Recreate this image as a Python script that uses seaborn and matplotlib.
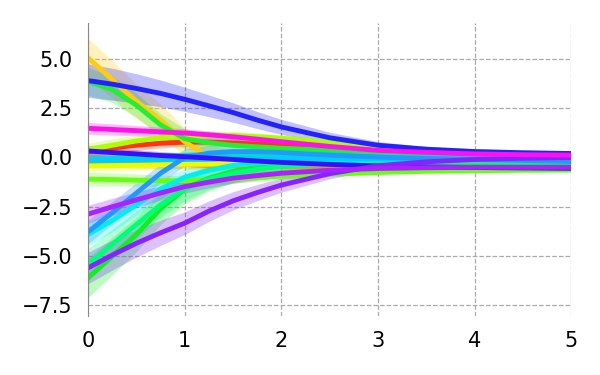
import matplotlib
matplotlib.use('Agg')
import matplotlib.pyplot as plt
import pandas as pd
import seaborn as sns

# x positions where the curves were read
xs = [0, 0.25, 0.5, 0.75, 1, 1.25, 1.5, 1.75, 2, 2.5, 3, 3.5, 4, 4.5, 5]

# mean curves
red = [0.3, 0.48, 0.62, 0.72, 0.78, 0.78, 0.74, 0.68, 0.62, 0.5, 0.38, 0.3, 0.22, 0.18, 0.15]
orange = [-0.2, -0.24, -0.28, -0.32, -0.36, -0.4, -0.42, -0.44, -0.45, -0.45, -0.42, -0.4, -0.36, -0.33, -0.3]
gold = [5.05, 3.95, 2.85, 1.9, 0.8, 0.0, -0.25, -0.3, -0.3, -0.3, -0.3, -0.3, -0.3, -0.3, -0.3]
yellow = [-0.43, -0.41, -0.39, -0.37, -0.35, -0.34, -0.33, -0.32, -0.32, -0.31, -0.3, -0.3, -0.3, -0.3, -0.3]
chartreuse = [0.38, 0.62, 0.84, 1.0, 1.1, 1.13, 1.12, 1.06, 0.98, 0.78, 0.58, 0.42, 0.3, 0.22, 0.18]
lime = [-1.1, -1.12, -1.15, -1.17, -1.18, -1.15, -1.1, -1.02, -0.95, -0.85, -0.76, -0.7, -0.67, -0.65, -0.64]
green_top = [3.85, 3.45, 2.65, 1.65, 0.95, 0.75, 0.62, 0.54, 0.47, 0.37, 0.28, 0.22, 0.16, 0.12, 0.1]
green_low = [-6.1, -5.0, -3.9, -2.6, -1.6, -1.05, -0.7, -0.5, -0.4, -0.32, -0.3, -0.3, -0.3, -0.3, -0.3]
spring = [-5.4, -4.4, -3.4, -2.4, -1.6, -1.1, -0.8, -0.6, -0.45, -0.32, -0.25, -0.22, -0.2, -0.2, -0.2]
teal = [-0.1, -0.05, 0.0, 0.05, 0.1, 0.15, 0.2, 0.2, 0.2, 0.15, 0.05, 0.0, -0.05, -0.08, -0.1]
cyan = [-3.9, -3.2, -2.4, -1.6, -1.0, -0.65, -0.4, -0.28, -0.2, -0.12, -0.1, -0.1, -0.1, -0.1, -0.1]
sky = [-0.15, -0.15, -0.13, -0.11, -0.09, -0.07, -0.05, -0.05, -0.05, -0.05, -0.07, -0.08, -0.1, -0.11, -0.12]
azure = [-3.77, -2.8, -1.8, -0.8, 0.0, 0.22, 0.3, 0.3, 0.25, 0.12, 0.02, -0.05, -0.1, -0.15, -0.2]
blue = [3.9, 3.72, 3.5, 3.25, 2.95, 2.62, 2.28, 1.9, 1.55, 1.0, 0.62, 0.42, 0.3, 0.24, 0.2]
indigo = [0.33, 0.25, 0.18, 0.1, 0.04, -0.03, -0.1, -0.18, -0.25, -0.35, -0.43, -0.48, -0.51, -0.53, -0.55]
violet = [-5.6, -4.95, -4.35, -3.82, -3.33, -2.72, -2.2, -1.78, -1.4, -0.82, -0.42, -0.22, -0.1, -0.04, 0.0]
purple = [-2.87, -2.5, -2.15, -1.8, -1.48, -1.25, -1.05, -0.92, -0.8, -0.65, -0.56, -0.52, -0.5, -0.5, -0.5]
magenta = [1.48, 1.42, 1.36, 1.3, 1.24, 1.15, 1.05, 0.93, 0.8, 0.56, 0.36, 0.26, 0.18, 0.14, 0.12]

# half width of each band at x=0, and how the bands narrow along x
band_start = {'red': 0.3, 'orange': 0.3, 'gold': 1.0, 'yellow': 0.3, 'chartreuse': 0.35,
              'lime': 0.35, 'green_top': 0.7, 'green_low': 1.0, 'spring': 0.8, 'teal': 0.25,
              'cyan': 0.6, 'sky': 0.25, 'azure': 0.6, 'blue': 0.85, 'indigo': 0.25,
              'violet': 0.8, 'purple': 0.45, 'magenta': 0.3}
band_shape = [1, 0.95, 0.88, 0.8, 0.72, 0.65, 0.58, 0.51, 0.45, 0.33, 0.22, 0.15, 0.1, 0.07, 0.05]

series = {'red': red, 'orange': orange, 'gold': gold, 'yellow': yellow,
          'chartreuse': chartreuse, 'lime': lime, 'green_top': green_top,
          'green_low': green_low, 'spring': spring, 'teal': teal, 'cyan': cyan,
          'sky': sky, 'azure': azure, 'blue': blue, 'indigo': indigo,
          'violet': violet, 'purple': purple, 'magenta': magenta}

colors = {'red': '#ff3311', 'orange': '#ff8c00', 'gold': '#ffcc11', 'yellow': '#e8ff00',
          'chartreuse': '#aaff00', 'lime': '#66ff11', 'green_top': '#22ee33',
          'green_low': '#11ee22', 'spring': '#00ff77', 'teal': '#00ddbb', 'cyan': '#00eeee',
          'sky': '#00ccff', 'azure': '#2299ff', 'blue': '#2222ff', 'indigo': '#3311ff',
          'violet': '#8822ff', 'purple': '#aa22ff', 'magenta': '#ff11ee'}

rows = []
for name, ys in series.items():
    for x, y in zip(xs, ys):
        rows.append({'x': x, 'y': y, 'line': name})
df = pd.DataFrame(rows)

sns.set_style('white')
plt.rcParams['font.family'] = ['DejaVu Sans']

fig = plt.figure(figsize=(6, 3.75), dpi=100)
ax = fig.add_axes([0.147, 0.157, 0.805, 0.782])

for name, ys in series.items():
    half = [band_start[name] * s for s in band_shape]
    lo = [y - h for y, h in zip(ys, half)]
    hi = [y + h for y, h in zip(ys, half)]
    ax.fill_between(xs, lo, hi, color=colors[name], alpha=0.28, lw=0)

sns.lineplot(data=df, x='x', y='y', hue='line', palette=colors, lw=3.5,
             legend=False, ax=ax, errorbar=None)

ax.set_xlim(0, 5)
ax.set_ylim(-8.05, 6.83)
ax.set_xticks([0, 1, 2, 3, 4, 5])
ax.set_yticks([-7.5, -5.0, -2.5, 0.0, 2.5, 5.0])
ax.set_xlabel('')
ax.set_ylabel('')
ax.grid(True, ls='--', color='#aaaaaa', lw=0.9)
for s in ['top', 'right', 'bottom']:
    ax.spines[s].set_visible(False)
ax.spines['left'].set_color('#888888')
ax.tick_params(axis='both', length=0, labelsize=15, pad=11, labelcolor='black')

fig.savefig('out.png', dpi=100)
